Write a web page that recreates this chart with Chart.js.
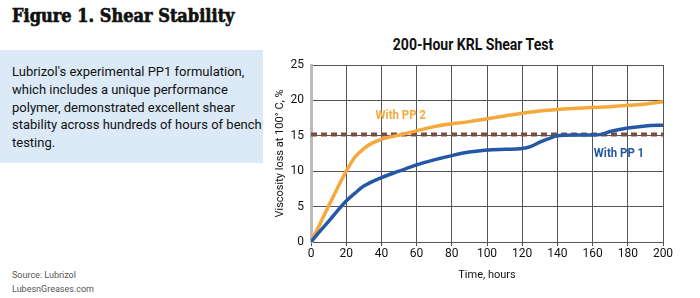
<!DOCTYPE html>
<html><head><meta charset="utf-8">
<script src="https://cdn.jsdelivr.net/npm/chart.js@4"></script>
<style>
html,body{margin:0;padding:0;background:#fff;}
body{width:700px;height:298px;position:relative;overflow:hidden;font-family:"Roboto",sans-serif;}
#fig{position:absolute;left:12px;top:5px;font-family:"DejaVu Serif Condensed","DejaVu Serif",serif;font-weight:bold;font-size:18px;color:#111;white-space:nowrap;-webkit-text-stroke:0.6px #111;}
#box{position:absolute;left:0;top:50px;width:263px;height:113px;background:#dce9f6;}
#boxtext{position:absolute;left:12px;top:63px;width:250px;font-size:13px;line-height:17.8px;color:#111;}
#src{position:absolute;left:12px;top:268px;font-size:9px;line-height:14px;color:#555;}
#ttl{position:absolute;left:273px;width:400px;top:35px;text-align:center;font-weight:bold;font-size:16.5px;color:#111;transform:scaleX(0.85);transform-origin:center;}
#wrap{position:absolute;left:265px;top:30px;width:435px;height:268px;}
</style></head>
<body>
<div id="fig">Figure 1. Shear Stability</div>
<div id="box"></div>
<div id="boxtext">Lubrizol's experimental PP1 formulation, which includes a unique performance polymer, demonstrated excellent shear stability across hundreds of hours of bench testing.</div>
<div id="src">Source: Lubrizol<br>LubesnGreases.com</div>
<div id="ttl">200-Hour KRL Shear Test</div>
<div id="wrap"><canvas id="c" width="435" height="268"></canvas></div>
<script>
const hoursPP2 = [0,5,10,15,20,25,30,35,40,50,60,70,80,90,100,110,120,130,140,150,160,170,180,190,200];
const valuesPP2 = [0,2.5,5.1,7.6,10.0,12.0,13.2,14.0,14.5,15.1,15.7,16.3,16.7,17.0,17.4,17.8,18.2,18.5,18.7,18.9,19.0,19.1,19.3,19.5,19.8];
const hoursPP1 = [0,5,10,15,20,25,30,40,50,60,70,80,90,100,110,120,125,130,135,140,150,160,165,170,180,190,200];
const valuesPP1 = [0,1.5,2.9,4.4,5.8,6.9,7.9,9.1,10.0,10.9,11.6,12.2,12.7,13.0,13.1,13.2,13.5,14.1,14.6,15.0,15.1,15.1,15.2,15.6,16.1,16.4,16.5];
const limitHours = [0,200];
const limitValues = [15.2,15.2];
const xTicks = [0,20,40,60,80,100,120,140,160,180,200];
const yTicks = [0,5,10,15,20,25];
const labelPP2 = {text:'With PP 2', x:51, y:17.9};
const labelPP1 = {text:'With PP 1', x:175, y:12.4};

const F = '"Roboto",sans-serif';
const toXY = (xs, ys) => xs.map((x,i)=>({x:x,y:ys[i]}));

const labelPlugin = {
  id:'labels',
  afterDatasetsDraw(chart){
    const ctx = chart.ctx, xs = chart.scales.x, ys = chart.scales.y;
    ctx.save();
    ctx.font = 'bold 13px ' + F;
    ctx.textAlign = 'center'; ctx.textBaseline = 'middle';
    const draw = (l, col) => {
      const px = xs.getPixelForValue(l.x), py = ys.getPixelForValue(l.y);
      ctx.save(); ctx.translate(px, py); ctx.scale(0.88, 1);
      ctx.fillStyle = col; ctx.fillText(l.text, 0, 0); ctx.restore();
    };
    draw(labelPP2, '#f5a83c');
    draw(labelPP1, '#2559a8');
    ctx.restore();
  }
};

new Chart(document.getElementById('c'), {
  type:'line',
  data:{datasets:[
    {data:toXY(limitHours,limitValues), borderColor:'#7b4f3f', borderWidth:4, borderDash:[6,4], pointRadius:0, tension:0, order:3},
    {data:toXY(hoursPP2,valuesPP2), borderColor:'#f5a83c', borderWidth:3.5, pointRadius:0, cubicInterpolationMode:'monotone', order:2},
    {data:toXY(hoursPP1,valuesPP1), borderColor:'#2559a8', borderWidth:3.5, pointRadius:0, cubicInterpolationMode:'monotone', order:1}
  ]},
  options:{
    responsive:false, animation:false,
    layout:{padding:{top:35,right:37,left:9,bottom:16}},
    plugins:{legend:{display:false}, tooltip:{enabled:false}},
    scales:{
      x:{type:'linear', min:0, max:200,
        afterBuildTicks(s){ s.ticks = xTicks.map(v=>({value:v})); },
        afterFit(s){ s.height = 40; },
        grid:{color:'#555', lineWidth:1, tickLength:4},
        border:{color:'#555', width:1},
        ticks:{font:{family:F,size:12}, color:'#111', padding:1, maxRotation:0},
        title:{display:true, text:'Time, hours', font:{family:F,size:11}, color:'#111', padding:{top:4,bottom:0}}
      },
      y:{type:'linear', min:0, max:25,
        afterBuildTicks(s){ s.ticks = yTicks.map(v=>({value:v})); },
        afterFit(s){ s.width = 37; },
        grid:{color:'#555', lineWidth:1, tickLength:0},
        border:{color:'#bbb', width:3},
        ticks:{font:{family:F,size:12}, color:'#111', padding:7},
        title:{display:true, text:'Viscosity loss at 100° C, %', font:{family:F,size:11}, color:'#111', padding:{top:0,bottom:0}}
      }
    }
  },
  plugins:[labelPlugin]
});
</script>
</body></html>
